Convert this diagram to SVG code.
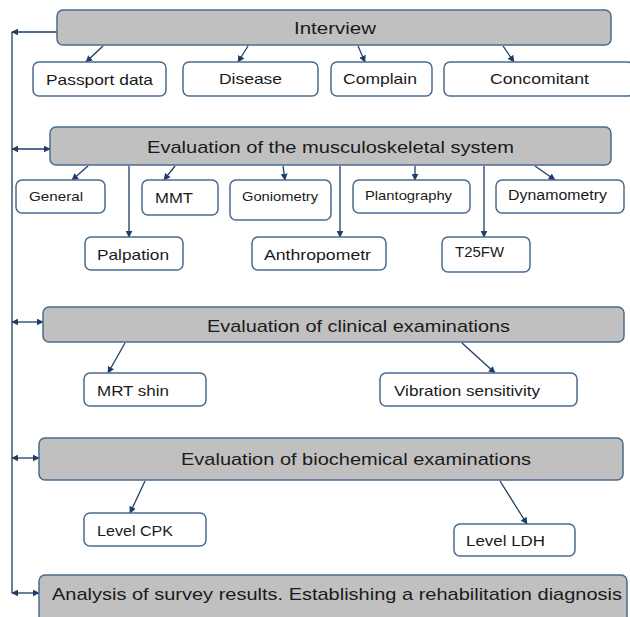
<svg xmlns="http://www.w3.org/2000/svg" width="630" height="617" viewBox="0 0 630 617">
<style>
.main{fill:#c0c0c0;stroke:#4a6b8f;stroke-width:1.5}
.sub{fill:#fff;stroke:#4a6b8f;stroke-width:1.5}
text{font-family:"Liberation Sans",Arial,sans-serif;fill:#1a1a1a}
.t1{font-size:17px}
.t2{font-size:15px}
.t3{font-size:13px}
.c{fill:none;stroke:#1f3d66;stroke-width:1.3}
</style>
<defs>
<marker id="ah" viewBox="0 0 10 10" refX="9" refY="5" markerWidth="7" markerHeight="7" orient="auto-start-reverse" markerUnits="userSpaceOnUse">
<path d="M0,0 L10,5 L0,10 z" fill="#1f3d66"/>
</marker>
</defs>
<g id="connectors">
<path class="c" d="M57,32 H12" marker-end="url(#ah)"/>
<path class="c" d="M12,32 V593"/>
<path class="c" d="M12,149 H50" marker-start="url(#ah)" marker-end="url(#ah)"/>
<path class="c" d="M12,322 H43" marker-start="url(#ah)" marker-end="url(#ah)"/>
<path class="c" d="M12,458 H39" marker-start="url(#ah)" marker-end="url(#ah)"/>
<path class="c" d="M12,593 H39" marker-start="url(#ah)" marker-end="url(#ah)"/>
<path class="c" d="M103,46 L86,62" marker-end="url(#ah)"/>
<path class="c" d="M248,46 L238,62" marker-end="url(#ah)"/>
<path class="c" d="M358,46 L365,62" marker-end="url(#ah)"/>
<path class="c" d="M503,46 L514,62" marker-end="url(#ah)"/>
<path class="c" d="M88,166 L72,180" marker-end="url(#ah)"/>
<path class="c" d="M129,166 V237" marker-end="url(#ah)"/>
<path class="c" d="M175,166 L164,180" marker-end="url(#ah)"/>
<path class="c" d="M283,166 L285,180" marker-end="url(#ah)"/>
<path class="c" d="M340,166 V237" marker-end="url(#ah)"/>
<path class="c" d="M415,166 V180" marker-end="url(#ah)"/>
<path class="c" d="M484,166 V237" marker-end="url(#ah)"/>
<path class="c" d="M535,166 L555,180" marker-end="url(#ah)"/>
<path class="c" d="M125,343 L108,373" marker-end="url(#ah)"/>
<path class="c" d="M462,343 L495,373" marker-end="url(#ah)"/>
<path class="c" d="M145,481 L130,513" marker-end="url(#ah)"/>
<path class="c" d="M500,481 L527,524" marker-end="url(#ah)"/>
</g>
<g id="interview">
<rect class="main" x="57" y="10" width="554" height="35" rx="6"/>
<text class="t1" x="335" y="34" text-anchor="middle" textLength="82" lengthAdjust="spacingAndGlyphs">Interview</text>
</g>
<g id="passport">
<rect class="sub" x="33" y="62" width="133" height="34" rx="6"/>
<text class="t2" x="99.5" y="85" text-anchor="middle" textLength="107" lengthAdjust="spacingAndGlyphs">Passport data</text>
</g>
<g id="disease">
<rect class="sub" x="183" y="62" width="135" height="34" rx="6"/>
<text class="t2" x="250.5" y="84" text-anchor="middle" textLength="63" lengthAdjust="spacingAndGlyphs">Disease</text>
</g>
<g id="complain">
<rect class="sub" x="331" y="62" width="101" height="34" rx="6"/>
<text class="t2" x="380" y="84" text-anchor="middle" textLength="74" lengthAdjust="spacingAndGlyphs">Complain</text>
</g>
<g id="concomitant">
<rect class="sub" x="444" y="62" width="190" height="34" rx="6"/>
<text class="t2" x="539.5" y="84" text-anchor="middle" textLength="99" lengthAdjust="spacingAndGlyphs">Concomitant</text>
</g>
<g id="musculoskeletal">
<rect class="main" x="50" y="127" width="561" height="38" rx="6"/>
<text class="t1" x="330.5" y="153" text-anchor="middle" textLength="367" lengthAdjust="spacingAndGlyphs">Evaluation of the musculoskeletal system</text>
</g>
<g id="general">
<rect class="sub" x="16" y="180" width="89" height="33" rx="6"/>
<text class="t3" x="29" y="201" textLength="54" lengthAdjust="spacingAndGlyphs">General</text>
</g>
<g id="mmt">
<rect class="sub" x="142" y="180" width="76" height="35" rx="6"/>
<text class="t2" x="155" y="203" textLength="38" lengthAdjust="spacingAndGlyphs">MMT</text>
</g>
<g id="goniometry">
<rect class="sub" x="230" y="180" width="101" height="40" rx="6"/>
<text class="t3" x="242" y="201" textLength="76" lengthAdjust="spacingAndGlyphs">Goniometry</text>
</g>
<g id="plantography">
<rect class="sub" x="353" y="180" width="117" height="33" rx="6"/>
<text class="t3" x="365" y="200" textLength="87" lengthAdjust="spacingAndGlyphs">Plantography</text>
</g>
<g id="dynamometry">
<rect class="sub" x="496" y="180" width="128" height="33" rx="6"/>
<text x="508" y="200" font-size="14" textLength="99" lengthAdjust="spacingAndGlyphs">Dynamometry</text>
</g>
<g id="palpation">
<rect class="sub" x="85" y="237" width="98" height="33" rx="6"/>
<text class="t2" x="97" y="260" textLength="72" lengthAdjust="spacingAndGlyphs">Palpation</text>
</g>
<g id="anthropometr">
<rect class="sub" x="252" y="237" width="134" height="33" rx="6"/>
<text class="t2" x="264" y="260" textLength="107" lengthAdjust="spacingAndGlyphs">Anthropometr</text>
</g>
<g id="t25fw">
<rect class="sub" x="442" y="237" width="88" height="35" rx="6"/>
<text x="455" y="257" font-size="14" textLength="49" lengthAdjust="spacingAndGlyphs">T25FW</text>
</g>
<g id="clinical">
<rect class="main" x="43" y="307" width="581" height="35" rx="6"/>
<text class="t1" x="358.5" y="332" text-anchor="middle" textLength="303" lengthAdjust="spacingAndGlyphs">Evaluation of clinical examinations</text>
</g>
<g id="mrt">
<rect class="sub" x="84" y="373" width="122" height="33" rx="6"/>
<text class="t2" x="97" y="396" textLength="72" lengthAdjust="spacingAndGlyphs">MRT shin</text>
</g>
<g id="vibration">
<rect class="sub" x="380" y="373" width="197" height="33" rx="6"/>
<text class="t2" x="394" y="396" textLength="146" lengthAdjust="spacingAndGlyphs">Vibration sensitivity</text>
</g>
<g id="biochemical">
<rect class="main" x="39" y="438" width="584" height="42" rx="6"/>
<text class="t1" x="356" y="465" text-anchor="middle" textLength="350" lengthAdjust="spacingAndGlyphs">Evaluation of biochemical examinations</text>
</g>
<g id="cpk">
<rect class="sub" x="84" y="513" width="122" height="33" rx="6"/>
<text class="t2" x="97" y="536" textLength="76" lengthAdjust="spacingAndGlyphs">Level CPK</text>
</g>
<g id="ldh">
<rect class="sub" x="454" y="524" width="121" height="32" rx="6"/>
<text class="t2" x="466" y="546" textLength="79" lengthAdjust="spacingAndGlyphs">Level LDH</text>
</g>
<g id="analysis">
<rect class="main" x="39" y="575" width="588" height="48" rx="6"/>
<text class="t1" x="52" y="600" textLength="570" lengthAdjust="spacingAndGlyphs">Analysis of survey results. Establishing a rehabilitation diagnosis</text>
</g>
</svg>
